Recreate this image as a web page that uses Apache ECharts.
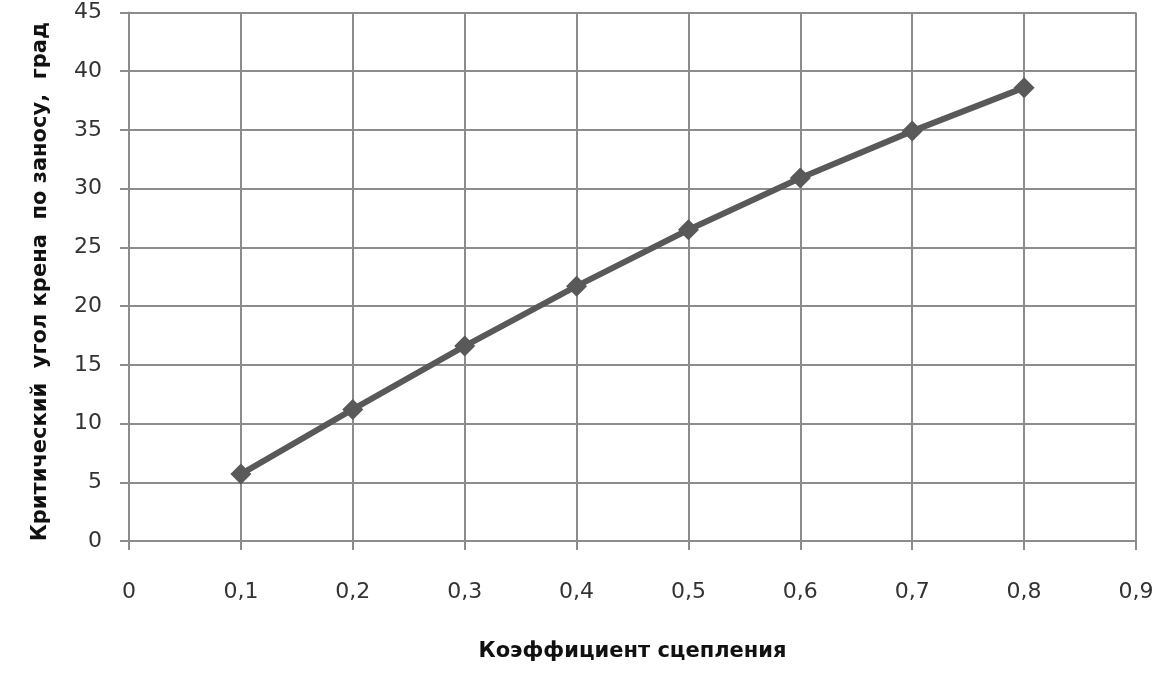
<!DOCTYPE html>
<html>
<head>
<meta charset="utf-8">
<script src="https://cdn.jsdelivr.net/npm/echarts@6/dist/echarts.min.js"></script>
<style>html,body{margin:0;padding:0;background:#fff;}#c{width:1165px;height:673px;}</style>
</head>
<body>
<div id="c"></div>
<script>
const coefficients = [0.1, 0.2, 0.3, 0.4, 0.5, 0.6, 0.7, 0.8];
const criticalAngle = [5.7, 11.2, 16.6, 21.7, 26.5, 30.9, 34.9, 38.6];
const xTickLabels = ['0', '0,1', '0,2', '0,3', '0,4', '0,5', '0,6', '0,7', '0,8', '0,9'];
const yTickLabels = ['0', '5', '10', '15', '20', '25', '30', '35', '40', '45'];
const xName = 'Коэффициент сцепления';
const yName = 'Критический  угол крена  по заносу,  град';

const chart = echarts.init(document.getElementById('c'), null, {renderer: 'canvas'});
const gridColor = '#8c8c8c';
chart.setOption({
  animation: false,
  grid: {left: 129, right: 29, top: 12.5, bottom: 132},
  xAxis: {
    type: 'value', min: 0, max: 0.9, interval: 0.1,
    name: xName, nameLocation: 'middle', nameGap: 100,
    nameTextStyle: {fontFamily: 'DejaVu Sans', fontWeight: 'bold', fontSize: 21, color: '#111'},
    axisLine: {show: true, lineStyle: {color: gridColor, width: 2}},
    axisTick: {show: true, length: 9, lineStyle: {color: gridColor, width: 2}},
    splitLine: {show: true, lineStyle: {color: gridColor, width: 2}},
    axisLabel: {
      margin: 40, fontFamily: 'DejaVu Sans', fontSize: 22, color: '#333',
      formatter: v => xTickLabels[Math.round(v * 10)]
    }
  },
  yAxis: {
    type: 'value', min: 0, max: 45, interval: 5,
    name: yName, nameLocation: 'middle', nameGap: 78,
    nameTextStyle: {fontFamily: 'DejaVu Sans', fontWeight: 'bold', fontSize: 21, color: '#111', padding: [0, 10, 0, 0]},
    axisLine: {show: true, lineStyle: {color: gridColor, width: 2}},
    axisTick: {show: true, length: 9, lineStyle: {color: gridColor, width: 2}},
    splitLine: {show: true, lineStyle: {color: gridColor, width: 2}},
    axisLabel: {
      margin: 27, fontFamily: 'DejaVu Sans', fontSize: 22, color: '#333',
      formatter: v => yTickLabels[Math.round(v / 5)]
    }
  },
  series: [{
    type: 'line',
    data: coefficients.map((x, i) => [x, criticalAngle[i]]),
    symbol: 'diamond', symbolSize: 21,
    lineStyle: {color: '#595959', width: 6},
    itemStyle: {color: '#595959'}
  }]
});
</script>
</body>
</html>
